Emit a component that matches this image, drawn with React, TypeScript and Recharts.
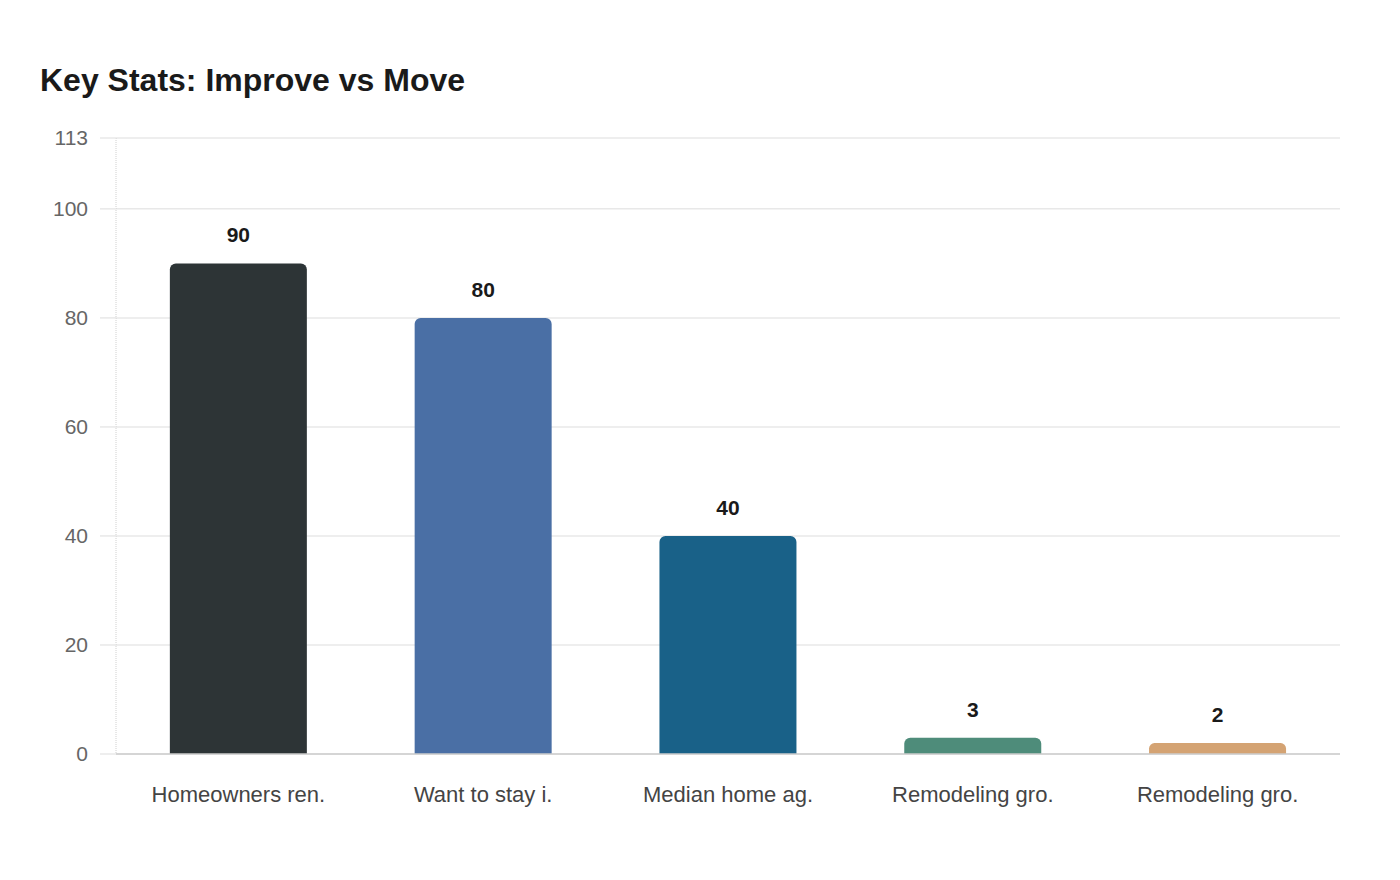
import React from 'react'
import { BarChart, Bar, XAxis, YAxis, CartesianGrid, Cell, LabelList } from 'recharts'

const categories = [
  'Homeowners ren.',
  'Want to stay i.',
  'Median home ag.',
  'Remodeling gro.',
  'Remodeling gro.',
]
const values = [90, 80, 40, 3, 2]
const barColors = ['#2d3436', '#4a6fa5', '#196188', '#4e8c7a', '#d4a373']
const yTicks = [0, 20, 40, 60, 80, 100, 113]

const data = categories.map((name, i) => ({ id: i, name, value: values[i] }))

const FONT = '"Liberation Sans", Arial, sans-serif'

export default function App() {
  return (
    <div
      style={{
        position: 'absolute',
        left: 0,
        top: 0,
        width: 1400,
        height: 880,
        background: '#fff',
        fontFamily: FONT,
      }}
    >
      <div
        style={{
          position: 'absolute',
          left: 40,
          top: 61,
          fontSize: 32,
          fontWeight: 700,
          color: '#1a1a1a',
          lineHeight: '38px',
        }}
      >
        Key Stats: Improve vs Move
      </div>
      <BarChart
        width={1400}
        height={880}
        data={data}
        margin={{ top: 138, right: 60, left: 40, bottom: 66 }}
        barCategoryGap="22%"
        style={{ fontFamily: FONT }}
      >
        <CartesianGrid vertical={false} stroke="#e8e8e8" strokeWidth={1.5} />
        <XAxis
          dataKey="id"
          tickFormatter={(i: number) => categories[i]}
          height={60}
          tick={{ fontSize: 22, fill: '#444' }}
          tickLine={false}
          axisLine={{ stroke: '#cccccc', strokeWidth: 1.5 }}
          tickMargin={26}
          interval={0}
        />
        <YAxis
          width={76}
          domain={[0, 113]}
          ticks={yTicks}
          interval={0}
          tick={{ fontSize: 21, fill: '#666' }}
          tickSize={16}
          tickMargin={12}
          tickLine={{ stroke: '#e8e8e8', strokeWidth: 1.5 }}
          axisLine={{ stroke: '#d0d0d0', strokeDasharray: '1 1' }}
        />
        <Bar dataKey="value" radius={[6, 6, 0, 0]} isAnimationActive={false}>
          {data.map((d, i) => (
            <Cell key={d.id} fill={barColors[i]} />
          ))}
          <LabelList
            dataKey="value"
            position="top"
            offset={21}
            style={{ fontSize: 21, fontWeight: 700, fill: '#1a1a1a' }}
          />
        </Bar>
      </BarChart>
    </div>
  )
}
